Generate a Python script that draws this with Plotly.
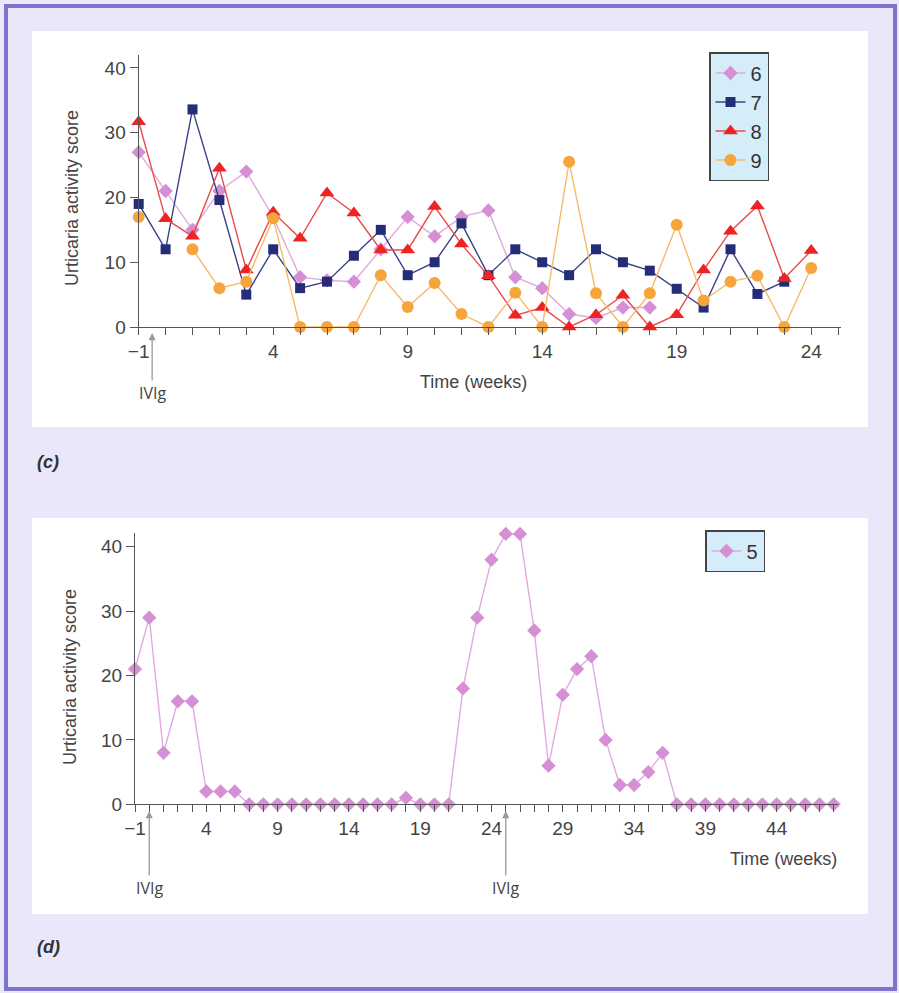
import plotly.graph_objects as go

# ---------------- data ----------------
weeks_c = list(range(-1, 25))          # panel (c): weeks -1 .. 24
p6 = [27, 21, 15, 21, 24, 17, 7.7, 7.2, 7, 12, 17, 14, 17, 18, 7.7, 6, 2, 1.4, 3, 3,
      None, None, None, None, None, None]
p7 = [19, 12, 33.6, 19.6, 5, 12, 6, 7, 11, 15, 8, 10, 16, 8, 12, 10, 8, 12, 10, 8.7,
      5.9, 3, 12, 5.1, 7, None]
p8 = [31.7, 16.7, 14, 24.5, 8.8, 17.7, 13.7, 20.7, 17.6, 11.9, 11.9, 18.6, 12.8, 7.9,
      1.8, 3, 0, 1.9, 4.9, 0, 1.9, 8.8, 14.8, 18.7, 7.5, 11.8]
p9 = [17, None, 12, 6, 7, 16.8, 0, 0, 0, 8, 3.1, 6.8, 2, 0, 5.3, 0, 25.5, 5.2, 0, 5.2,
      15.8, 4.1, 7, 7.9, 0, 9.1]

weeks_d = list(range(-1, 49))          # panel (d): weeks -1 .. 48
p5 = [21, 29, 8, 16, 16, 2, 2, 2,
      0, 0, 0, 0, 0, 0, 0, 0, 0, 0, 0,
      1, 0, 0, 0,
      18, 29, 38, 42, 42, 27, 6, 17, 21, 23, 10, 3, 3, 5, 8,
      0, 0, 0, 0, 0, 0, 0, 0, 0, 0, 0, 0]

ticks_c = list(range(-1, 26))
labels_c = ["\u22121" if t == -1 else (str(t) if (t + 1) % 5 == 0 else "") for t in ticks_c]
ticks_d = list(range(-1, 49))
labels_d = ["\u22121" if t == -1 else (str(t) if (t + 1) % 5 == 0 else "") for t in ticks_d]
yticks = [0, 10, 20, 30, 40]

# ---------------- geometry helpers ----------------
W, H = 899, 993
def px(x):
    return x / W
def py(y):
    return (H - y) / H

FONT = "Liberation Sans, Arial, sans-serif"
AX = "#555555"
TXT = "#444444"

fig = go.Figure()

series_c = [
    ("6", p6, dict(symbol="diamond", size=11, color="#d68ed4"), "#e2a9e0"),
    ("7", p7, dict(symbol="square", size=10, color="#262d78"), "#3b4188"),
    ("8", p8, dict(symbol="triangle-up", size=13, color="#ee2323"), "#ea4a4a"),
    ("9", p9, dict(symbol="circle", size=12, color="#f6a43c"), "#f6ba6a"),
]
for name, vals, mk, lc in series_c:
    fig.add_trace(go.Scatter(
        x=weeks_c, y=vals, name=name, mode="lines+markers",
        marker=mk, line=dict(color=lc, width=1.4),
        connectgaps=False, cliponaxis=False,
        xaxis="x", yaxis="y", legend="legend"))

fig.add_trace(go.Scatter(
    x=weeks_d, y=p5, name="5", mode="lines+markers",
    marker=dict(symbol="diamond", size=11, color="#d68ed4"),
    line=dict(color="#e2a9e0", width=1.4), cliponaxis=False,
    xaxis="x2", yaxis="y2", legend="legend2"))

axis_common = dict(showline=True, linecolor=AX, linewidth=1.3, ticks="outside",
                   tickcolor=AX, tickwidth=1.2, showgrid=False, zeroline=False,
                   automargin=False,
                   tickfont=dict(family=FONT, size=19, color=TXT))

shapes = [
    # outer frame
    dict(type="rect", xref="paper", yref="paper", x0=px(6), x1=px(895), y0=py(989), y1=py(6),
         line=dict(color="#7c74cc", width=4), fillcolor="#ebe7fb", layer="below"),
    # white panels
    dict(type="rect", xref="paper", yref="paper", x0=px(32), x1=px(868), y0=py(427), y1=py(31),
         line=dict(width=0), fillcolor="white", layer="below"),
    dict(type="rect", xref="paper", yref="paper", x0=px(32), x1=px(868), y0=py(914), y1=py(518),
         line=dict(width=0), fillcolor="white", layer="below"),
]

arrow = dict(showarrow=True, arrowhead=2, arrowsize=1.1, arrowwidth=1.3, arrowcolor="#9a9a9a",
             font=dict(family="Open Sans, Liberation Sans, sans-serif", size=16, color=TXT), ax=0)
plain = dict(showarrow=False, xref="paper", yref="paper", xanchor="center", yanchor="middle")
annotations = [
    dict(text="IVIg", xref="x", yref="paper", x=-0.5, y=py(333), ay=60, **arrow),
    dict(text="IVIg", xref="x2", yref="paper", x=0, y=py(811), ay=77, **arrow),
    dict(text="IVIg", xref="x2", yref="paper", x=25, y=py(811), ay=77, **arrow),
    dict(text="Time (weeks)", x=px(473), y=py(382),
         font=dict(family=FONT, size=18, color=TXT), **plain),
    dict(text="Time (weeks)", x=px(783), y=py(859),
         font=dict(family=FONT, size=18, color=TXT), **plain),
    dict(text="Urticaria activity score", x=px(72), y=py(198), textangle=-90,
         font=dict(family=FONT, size=18, color=TXT), **plain),
    dict(text="Urticaria activity score", x=px(70), y=py(677), textangle=-90,
         font=dict(family=FONT, size=18, color=TXT), **plain),
    dict(text="<b><i>(c)</i></b>", x=px(48), y=py(462),
         font=dict(family=FONT, size=18, color="#333333"), **plain),
    dict(text="<b><i>(d)</i></b>", x=px(48), y=py(947),
         font=dict(family=FONT, size=18, color="#333333"), **plain),
]

legend_common = dict(bgcolor="#d5edf9", bordercolor="#444444", borderwidth=1.5,
                     font=dict(family=FONT, size=20, color="#333333"), itemwidth=30,
                     xanchor="left", yanchor="top", tracegroupgap=0)

fig.update_layout(
    width=W, height=H, autosize=False,
    margin=dict(l=0, r=0, t=0, b=0, pad=0, autoexpand=False),
    paper_bgcolor="#ebe7fb", plot_bgcolor="white",
    showlegend=True,
    xaxis=dict(domain=[px(138.7), px(840.8)], range=[-1, 25.1], anchor="y",
               tickvals=ticks_c, ticktext=labels_c, ticklen=7, **axis_common),
    yaxis=dict(domain=[py(327), py(55)], range=[0, 42], anchor="x",
               tickvals=yticks, ticklen=8, **axis_common),
    xaxis2=dict(domain=[px(135), px(838)], range=[-1, 48.3], anchor="y2",
                tickvals=ticks_d, ticktext=labels_d, ticklen=7, **axis_common),
    yaxis2=dict(domain=[py(804.3), py(533.3)], range=[0, 42.1], anchor="x2",
                tickvals=yticks, ticklen=8, **axis_common),
    legend=dict(x=px(709), y=py(52), **legend_common),
    legend2=dict(x=px(705), y=py(530), **legend_common),
    shapes=shapes, annotations=annotations,
)

fig.write_html(
    "out.html",
    config={"displayModeBar": False},
    post_script="document.documentElement.style.margin='0';document.body.style.margin='0';"
                "document.body.style.padding='0';document.body.style.overflow='hidden';",
)
